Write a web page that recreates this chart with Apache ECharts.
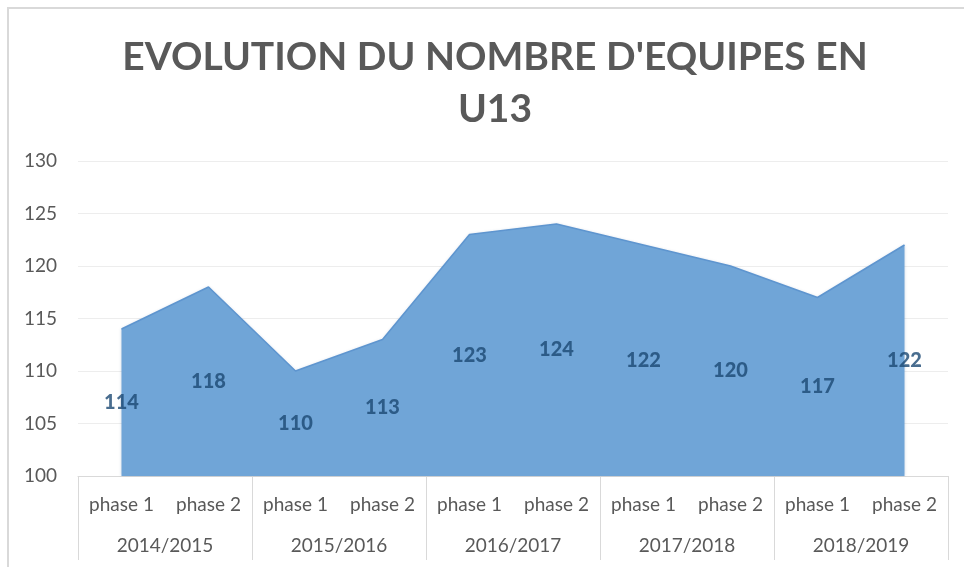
<!DOCTYPE html>
<html>
<head>
<meta charset="utf-8">
<script src="https://cdn.jsdelivr.net/npm/echarts@6/dist/echarts.min.js"></script>
<style>
  html, body { margin: 0; padding: 0; background: #fff; }
  #c_chart { width: 964px; height: 567px; }
</style>
</head>
<body>
<div id="c_chart"></div>
<script>
// données
const phases = ['phase 1', 'phase 2', 'phase 1', 'phase 2', 'phase 1', 'phase 2', 'phase 1', 'phase 2', 'phase 1', 'phase 2']
const saisons = ['2014/2015', '2015/2016', '2016/2017', '2017/2018', '2018/2019']
const equipes = [114, 118, 110, 113, 123, 124, 122, 120, 117, 122]
const yMin = 100
const yMax = 130

const font = 'Lato, "Open Sans", sans-serif'
const grey = '#595959'

const chart = echarts.init(document.getElementById('c_chart'))

// les étiquettes sont au milieu de l'aire, comme dans Excel
const labelPoints = equipes.map((v, i) => [i, (v + yMin) / 2, v])

const option = {
  animation: false,
  textStyle: { fontFamily: font },
  title: {
    text: "EVOLUTION DU NOMBRE D'EQUIPES EN\nU13",
    left: 490,
    textAlign: 'center',
    top: 26,
    textStyle: {
      fontFamily: font,
      fontSize: 39,
      fontWeight: 'bold',
      color: grey,
      lineHeight: 52
    }
  },
  graphic: [{
    type: 'rect',
    shape: { x: 8, y: 8, width: 1000, height: 600 },
    style: { fill: 'none', stroke: '#d9d9d9', lineWidth: 2 },
    silent: true
  }],
  grid: {
    left: 78,
    right: 16,
    top: 161,
    bottom: 91
  },
  xAxis: [{
    type: 'category',
    data: phases,
    position: 'bottom',
    axisLine: { show: true, lineStyle: { color: '#d9d9d9' } },
    axisTick: { show: false },
    axisLabel: { color: grey, fontSize: 19, margin: 19, interval: 0 },
    splitLine: { show: false }
  }, {
    type: 'category',
    data: saisons,
    position: 'bottom',
    axisLine: { show: false },
    axisTick: { show: true, length: 84, lineStyle: { color: '#d9d9d9' } },
    axisLabel: { color: grey, fontSize: 19, margin: 60, interval: 0 },
    splitLine: { show: false }
  }],
  yAxis: {
    type: 'value',
    min: yMin,
    max: yMax,
    interval: 5,
    axisLine: { show: false },
    axisTick: { show: false },
    axisLabel: { color: grey, fontSize: 19, margin: 21 },
    splitLine: { lineStyle: { color: '#ededed' } }
  },
  series: [{
    name: 'U13',
    type: 'line',
    data: equipes,
    symbol: 'none',
    lineStyle: { color: '#5e95cf', width: 1.5 },
    areaStyle: {
      color: '#70a5d7',
      opacity: 1,
      origin: 'start',
      shadowColor: 'rgba(40,80,130,0.25)',
      shadowBlur: 3
    },
    z: 2
  }, {
    type: 'scatter',
    data: labelPoints,
    symbolSize: 0,
    silent: true,
    z: 5,
    label: {
      show: true,
      position: 'inside',
      formatter: p => p.data[2],
      color: '#1c4873',
      fontSize: 20,
      fontWeight: 900,
      fontFamily: font
    }
  }]
}

chart.setOption(option, true)
</script>
</body>
</html>
